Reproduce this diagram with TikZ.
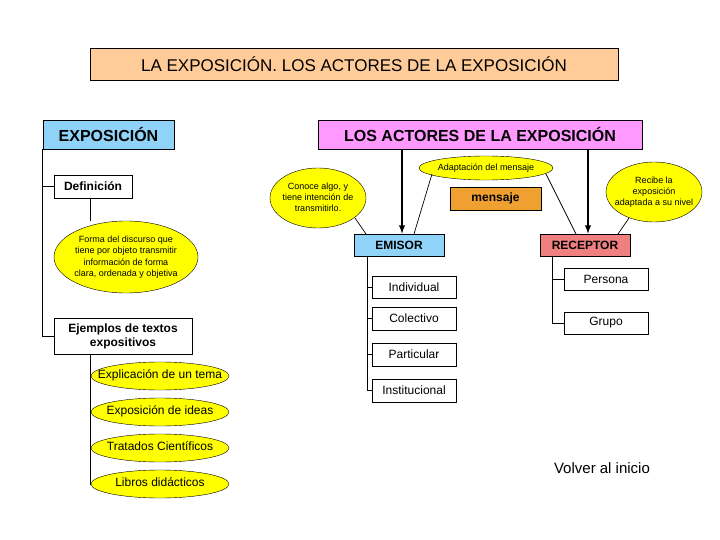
\documentclass[tikz,border=0pt]{standalone}
\usepackage{fontspec}
\setmainfont{Liberation Sans}
\usetikzlibrary{shapes.geometric}
\definecolor{peach}{HTML}{FFCC99}
\definecolor{lblue}{HTML}{8FD4F8}
\definecolor{pink}{HTML}{FF99FF}
\definecolor{orng}{HTML}{F0A030}
\definecolor{salmon}{HTML}{F08080}
\definecolor{yel}{HTML}{FFFF00}
\newcommand{\zb}[1]{\makebox[0pt]{\begin{tabular}{@{}c@{}}#1\end{tabular}}}
\begin{document}
\begin{tikzpicture}[x=1pt,y=-1pt,
 box/.style={draw,line width=0.8pt,inner sep=0pt},
 ell/.style={draw,ellipse,fill=yel,inner sep=0pt,font=\fontsize{9}{11}\selectfont},
 sub/.style={box,fill=white,font=\fontsize{12}{14}\selectfont},
 ln/.style={line width=0.7pt}]
\useasboundingbox (0,0) rectangle (720,540);
\fill[white] (0,0) rectangle (720,540);
% title
\node[box,fill=peach,minimum width=528,minimum height=32,font=\fontsize{17}{19}\selectfont] (t) at (354,64) {LA EXPOSICIÓN. LOS ACTORES DE LA EXPOSICIÓN};
\node[box,fill=lblue,minimum width=131,minimum height=29,font=\fontsize{16}{18}\bfseries] (ex) at (108.5,134.5) {EXPOSICIÓN};
\node[box,fill=pink,minimum width=324,minimum height=29,font=\fontsize{16}{18}\bfseries] (ac) at (480,134.5) {LOS ACTORES DE LA EXPOSICIÓN};
% left
\node[box,fill=white,minimum width=78,minimum height=23,font=\fontsize{12}{14}\bfseries] (def) at (93,186.5) {Definición};
\node[ell,minimum width=144,minimum height=72,font=\fontsize{9}{11.5}\selectfont] (fd) at (126,257) {\zb{Forma del discurso que\\tiene por objeto transmitir\\información de forma\\clara, ordenada y objetiva}};
\node[box,fill=white,minimum width=138,minimum height=36,align=center,font=\fontsize{12}{14}\bfseries] (ej) at (123,336) {Ejemplos de textos\\expositivos};
\node[ell,minimum width=138,minimum height=28,font=\fontsize{12}{14}\selectfont] (e1) at (160,376) {\zb{Explicación de un tema}};
\node[ell,minimum width=138,minimum height=28,font=\fontsize{12}{14}\selectfont] (e2) at (160,412) {\zb{Exposición de ideas}};
\node[ell,minimum width=138,minimum height=28,font=\fontsize{12}{14}\selectfont] (e3) at (160,448) {\zb{Tratados Científicos}};
\node[ell,minimum width=138,minimum height=28,font=\fontsize{12}{14}\selectfont] (e4) at (160,484) {\zb{Libros didácticos}};
\draw[ln] (ex.south west) |- (def.west);
\draw[ln] (ex.south west) |- (ej.west);
\draw[ln] (def.south -| 90,0) -- (fd.north -| 90,0);
\draw[ln] (ej.south -| 90,0) |- (e4.west);
\foreach \e in {e1,e2,e3} \draw[ln] (90,0 |- \e.west) -- (\e.west);
% right
\node[box,fill=lblue,minimum width=90,minimum height=22,font=\fontsize{12}{14}\bfseries] (em) at (399,245) {EMISOR};
\node[box,fill=salmon,minimum width=90,minimum height=22,font=\fontsize{12}{14}\bfseries] (re) at (585,245) {RECEPTOR};
\node[box,fill=orng,minimum width=91,minimum height=23,font=\fontsize{12}{14}\bfseries] (me) at (495.5,198.5) {mensaje};
\node[ell,minimum width=96,minimum height=60] (co) at (318,198) {\zb{Conoce algo, y\\tiene intención de\\transmitirlo.}};
\node[ell,minimum width=134,minimum height=24] (ad) at (486,168) {\zb{Adaptación del mensaje}};
\node[ell,minimum width=96,minimum height=60] (rc) at (654,192) {\zb{Recibe la\\exposición\\adaptada a su nivel}};
\draw[line width=1.8pt,-latex] (ac.south -| em.north) ++(3,0) coordinate (a1) -- (a1 |- em.north);
\draw[line width=1.8pt,-latex] (588,149) coordinate (a2) -- (a2 |- re.north);
\draw[ln] (355,218) -- (366,234);
\draw[ln] (432,174) -- (414,234);
\draw[ln] (546,174) -- (576,234);
\draw[ln] (629,218) -- (618,234);
\node[sub,minimum width=84,minimum height=22] (i1) at (414,287) {Individual};
\node[sub,minimum width=84,minimum height=23] (i2) at (414,318.5) {Colectivo};
\node[sub,minimum width=84,minimum height=23] (i3) at (414,354.5) {Particular};
\node[sub,minimum width=84,minimum height=23] (i4) at (414,390.5) {Institucional};
\draw[ln] (367,256) |- (i4.west);
\foreach \e in {i1,i2,i3} \draw[ln] (367,0 |- \e.west) -- (\e.west);
\node[sub,minimum width=84,minimum height=22] (p1) at (606,279) {Persona};
\node[sub,minimum width=84,minimum height=22] (p2) at (606,323) {Grupo};
\draw[ln] (552,256) |- (p2.west);
\draw[ln] (552,0 |- p1.west) -- (p1.west);
\node[font=\fontsize{15}{17}\selectfont] (vi) at (602,468) {Volver al inicio};
\end{tikzpicture}
\end{document}
